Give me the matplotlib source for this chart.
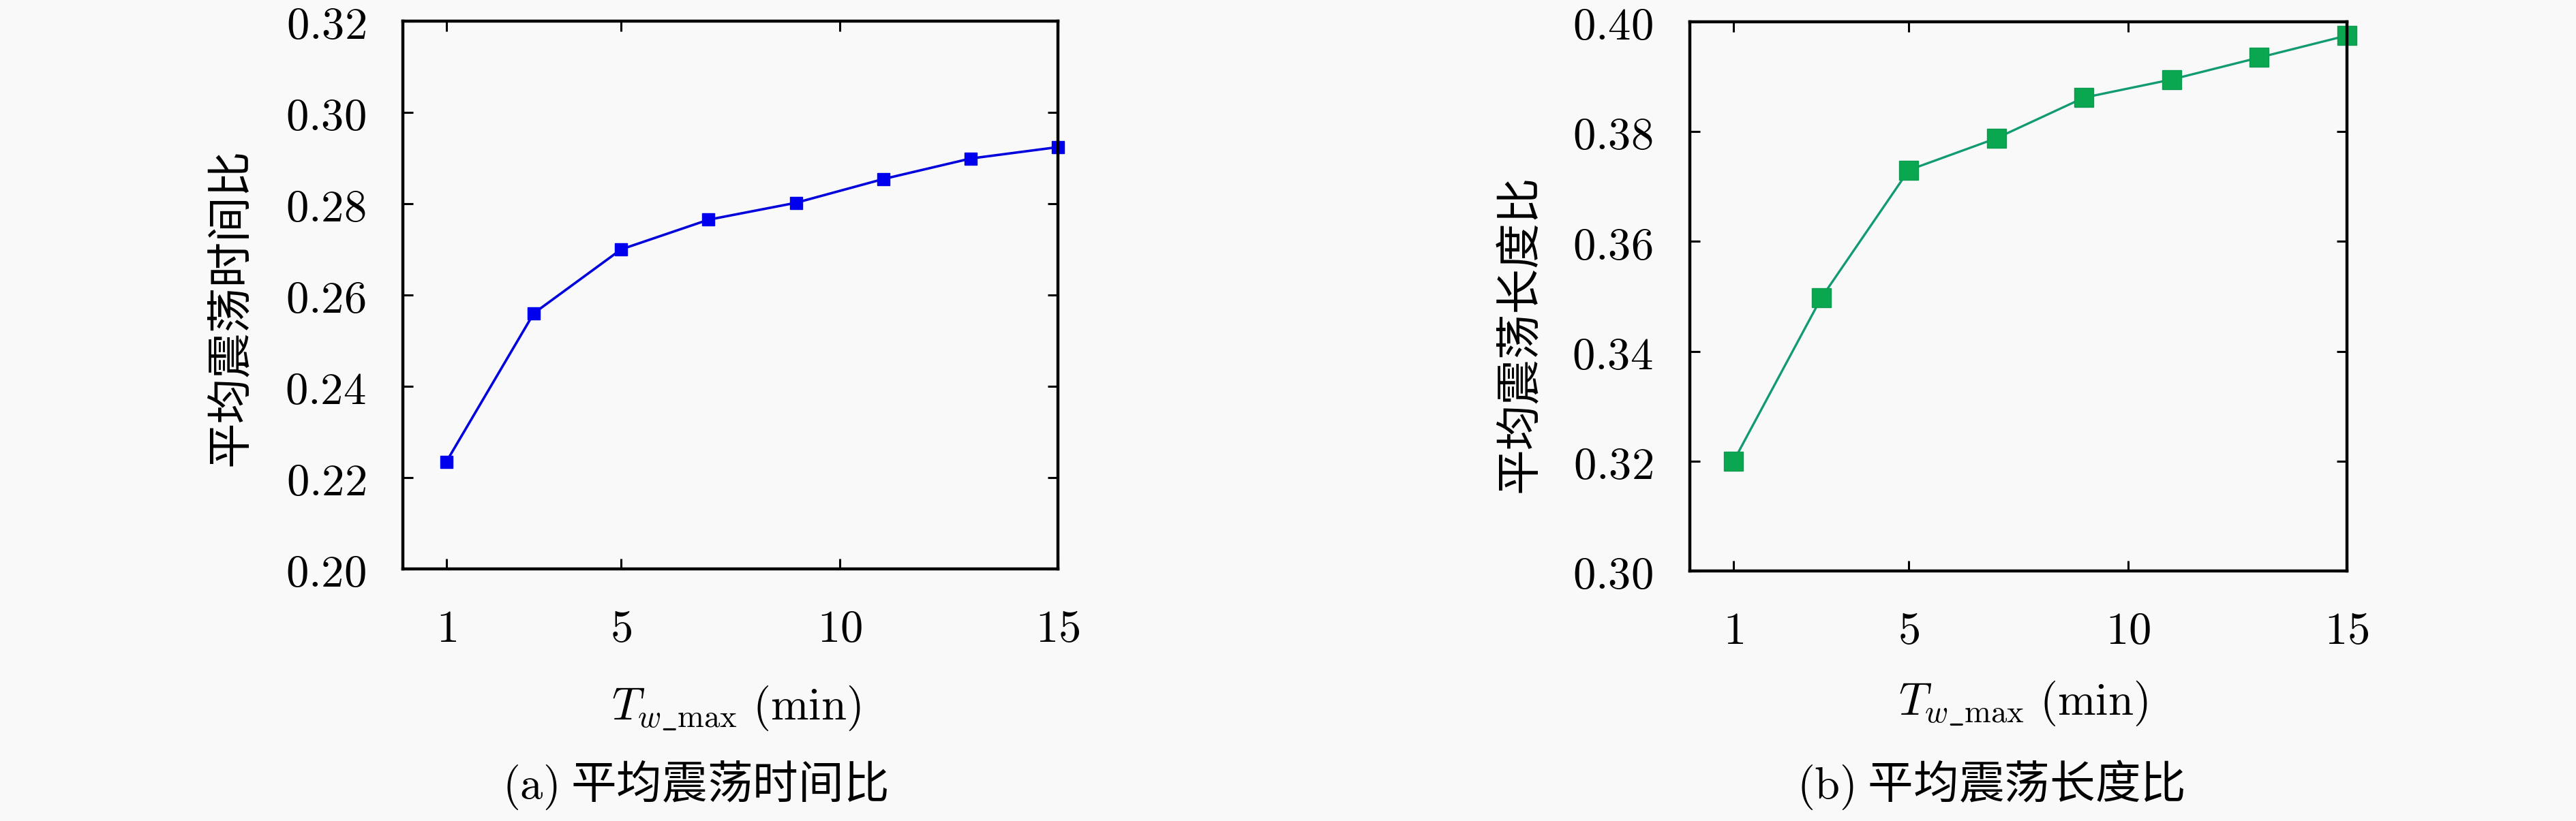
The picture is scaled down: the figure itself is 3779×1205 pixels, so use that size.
#Oscillation ratio vs T_w_max, two panels
import numpy as np
import matplotlib.pyplot as plt
from matplotlib.ticker import FormatStrFormatter

plt.rcParams['mathtext.fontset'] = 'cm'
plt.rcParams['font.family'] = ['Noto Sans CJK SC', 'DejaVu Sans']

#Data
t_max = [1, 3, 5, 7, 9, 11, 13, 15]
time_ratio = [0.2235, 0.2560, 0.2700, 0.2765, 0.2802, 0.2854, 0.2899, 0.2924]
length_ratio = [0.3200, 0.3497, 0.3730, 0.3788, 0.3862, 0.3895, 0.3935, 0.3975]
x_ticks = [1, 5, 10, 15]
y_ticks_a = [0.20, 0.22, 0.24, 0.26, 0.28, 0.30, 0.32]
y_ticks_b = [0.30, 0.32, 0.34, 0.36, 0.38, 0.40]

bg = '#f9f9f9'
fs = 48
fig = plt.figure(figsize=(37.8, 12.05), dpi=100, facecolor=bg)

ax1 = fig.add_axes([0.1563, 0.307, 0.2543, 0.6673])
ax2 = fig.add_axes([0.6558, 0.3046, 0.2550, 0.6688])

ax1.plot(t_max, time_ratio, color='#0000dd', lw=2.6, marker='s', ms=13.5,
         mfc='#0000ee', mec='#0000ee')
ax2.plot(t_max, length_ratio, color='#129a72', lw=2.4, marker='s', ms=20,
         mfc='#0aa650', mec='#0a9a50')

for ax, yt in [(ax1, y_ticks_a), (ax2, y_ticks_b)]:
    ax.set_facecolor(bg)
    ax.set_xlim(0, 15)
    ax.set_ylim(yt[0], yt[-1])
    ax.set_xticks(x_ticks)
    ax.set_yticks(yt)
    ax.xaxis.set_major_formatter(FormatStrFormatter(r'$%d$'))
    ax.yaxis.set_major_formatter(FormatStrFormatter(r'$%.2f$'))
    ax.tick_params(direction='in', top=True, right=True, length=11, width=2.2,
                   labelsize=fs, pad=39)
    for s in ax.spines.values():
        s.set_linewidth(3.2)
    for m in ax.get_lines():
        m.set_clip_on(False)

xlab = r'$T_{w\_\mathrm{max}}\ (\mathrm{min})$'
fig.text(0.2857, 0.137, xlab, fontsize=fs, ha='center', va='center')
fig.text(0.7852, 0.143, xlab, fontsize=fs, ha='center', va='center')

fig.text(0.0894, 0.6257, '平均震荡时间比', fontsize=fs, rotation=90,
         ha='center', va='center')
fig.text(0.5900, 0.5934, '平均震荡长度比', fontsize=fs, rotation=90,
         ha='center', va='center')

fig.text(0.2696, 0.044, r'$\mathrm{(a)}$ 平均震荡时间比', fontsize=fs,
         ha='center', va='center')
fig.text(0.7725, 0.044, r'$\mathrm{(b)}$ 平均震荡长度比', fontsize=fs,
         ha='center', va='center')

fig.savefig('out.png', dpi=100, facecolor=bg)
